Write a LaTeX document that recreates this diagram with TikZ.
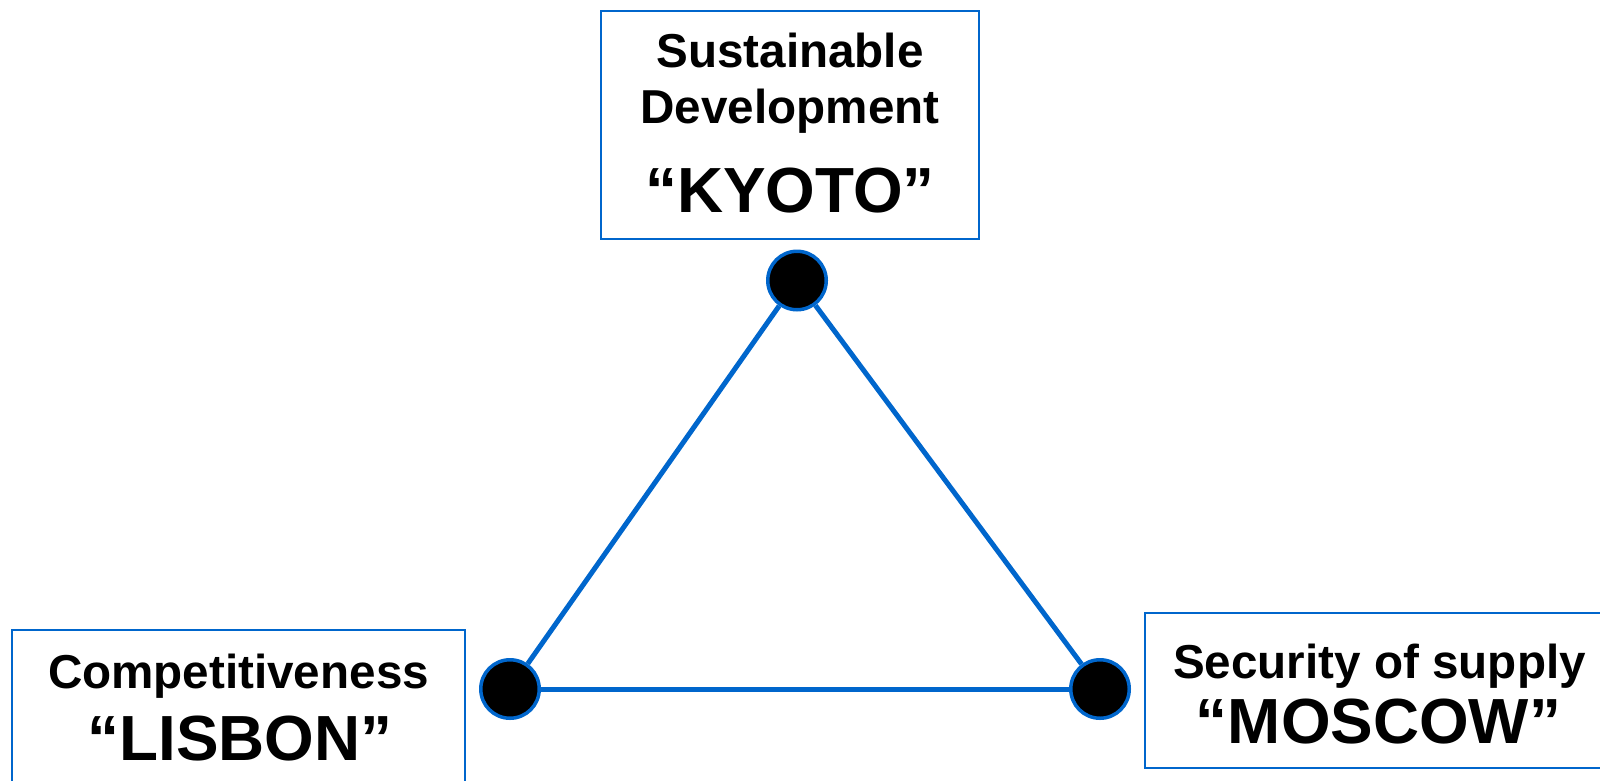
\documentclass[tikz,border=0pt]{standalone}
\usepackage{fontspec}
\setmainfont{Liberation Sans}
\definecolor{linkblue}{HTML}{0066CC}
\tikzset{
  frame/.style={draw=linkblue, line width=2pt, rectangle, inner sep=0pt},
  hub/.style={circle, fill=black, draw=linkblue, line width=3.5pt, minimum size=58.5pt, inner sep=0pt},
  link/.style={draw=linkblue, line width=5pt},
  small/.style={anchor=base, inner sep=0pt, font=\bfseries\fontsize{47.6}{57}\selectfont},
  big/.style={anchor=base, inner sep=0pt, font=\bfseries\fontsize{63.8}{76}\selectfont}
}
\begin{document}
\begin{tikzpicture}[x=1pt,y=-1pt]
\useasboundingbox (0,0) rectangle (1600,780);
% framed boxes
\node[frame, minimum width=378pt, minimum height=228pt] (kbox) at (790,125) {};
\node[frame, minimum width=453pt, minimum height=180pt] (lbox) at (238,720) {};
\node[frame, minimum width=468pt, minimum height=155pt] (mbox) at (1379,690.5) {};
% labels
\node[small] (k1) at (790,67) {Sustainable};
\node[small] (k2) at (790,123) {Development};
\node[big]   (k3) at (790,212) {“KYOTO”};
\node[small] (l1) at (238.5,688) {Competitiveness};
\node[big]   (l2) at (240,760) {“LISBON”};
\node[small] (m1) at (1379.5,678) {Security of supply};
\node[big]   (m2) at (1378.5,743) {“MOSCOW”};
% triangle corners
\node[hub] (top) at (797,280.5) {};
\node[hub] (left) at (510,689) {};
\node[hub] (right) at (1100,689) {};
\draw[link] (top) -- (left);
\draw[link] (top) -- (right);
\draw[link] (left) -- (right);
\end{tikzpicture}
\end{document}
